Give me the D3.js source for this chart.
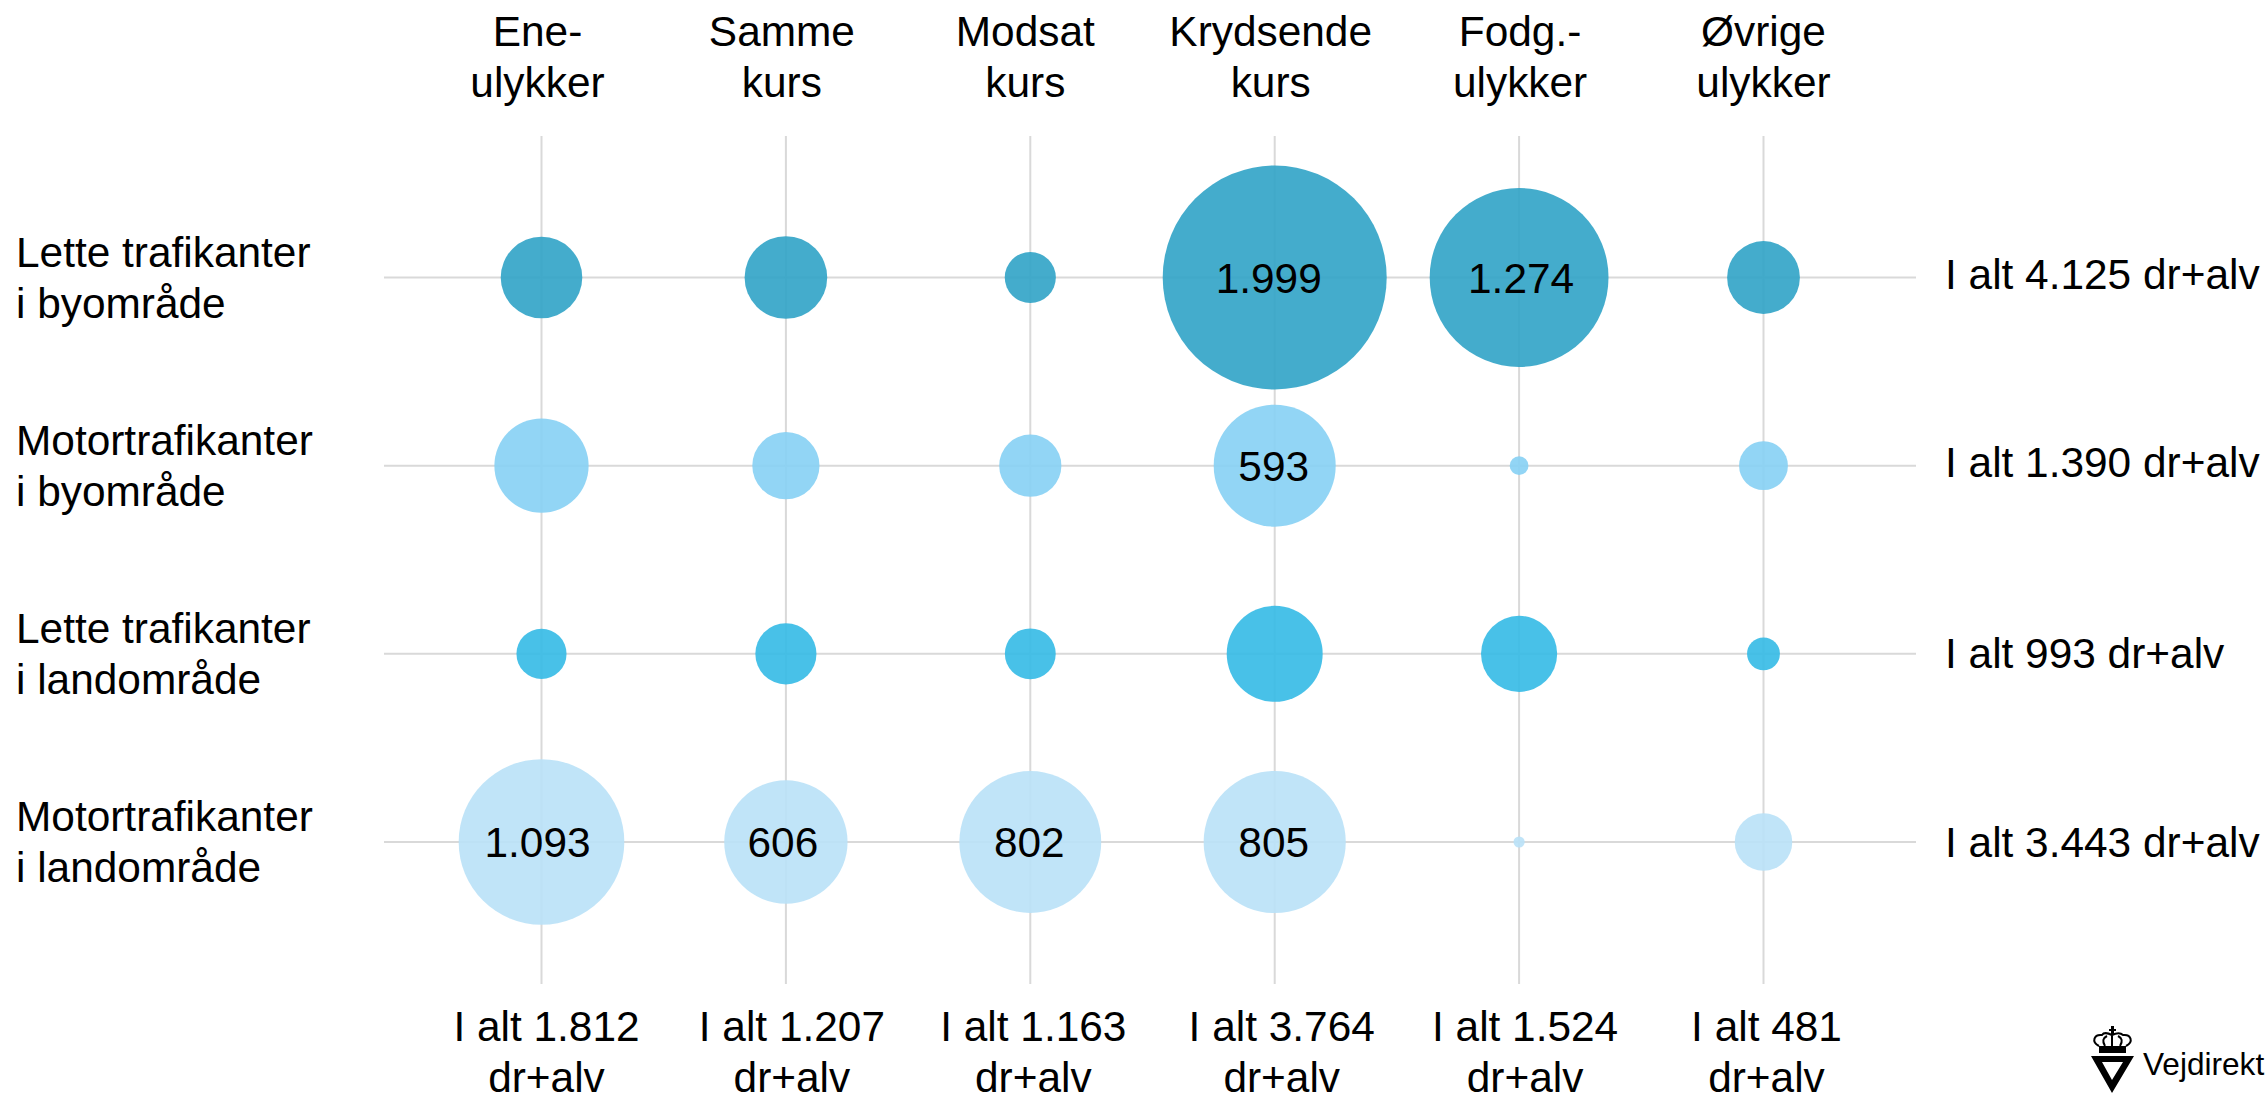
<!DOCTYPE html>
<html>
<head>
<meta charset="utf-8">
<script src="https://cdn.jsdelivr.net/npm/d3@7"></script>
<style>
  html, body { margin: 0; padding: 0; background: #fff; overflow: hidden; }
  text { font-family: "Liberation Sans", Arial, sans-serif; fill: #000; }
</style>
</head>
<body>
<svg id="chart" width="2267" height="1093"></svg>
<script>
  const columnLabels = [['Ene-', 'ulykker'], ['Samme', 'kurs'], ['Modsat', 'kurs'], ['Krydsende', 'kurs'], ['Fodg.-', 'ulykker'], ['Øvrige', 'ulykker']]
  const rowLabels = [['Lette trafikanter', 'i byområde'], ['Motortrafikanter', 'i byområde'], ['Lette trafikanter', 'i landområde'], ['Motortrafikanter', 'i landområde']]
  const columnTotals = [1812, 1207, 1163, 3764, 1524, 481]
  const rowTotals = [4125, 1390, 993, 3443]
  const rowColors = ['#30a3c7', '#86d0f4', '#34bae5', '#b9e1f7']

  // one list per row, values read off the bubble sizes where there is no label
  const letteBy = [265, 272, 104, 1999, 1274, 211]
  const motorBy = [354, 180, 154, 593, 14, 95]
  const letteLand = [100, 149, 103, 367, 231, 43]
  const motorLand = [1093, 606, 802, 805, 5, 132]
  const rows = [letteBy, motorBy, letteLand, motorLand]

  const fontSize = 42.4
  const lineGap = 51
  const labelFrom = 500 // smaller bubbles have no number

  // the text boxes in the original are not quite centred on their columns
  const headerShift = [-4, -4, -5, -4, 1, 0]
  const totalShift = [5, 6, 3, 7, 6, 3]
  const rowTotalShift = [11, 11, 14, 15]
  const labelShift = { 1999: -5, 1274: 3, 1093: -3, 606: -2 }

  const num = d3.formatLocale({ decimal: ',', thousands: '.', grouping: [3], currency: ['', ''] }).format(',d')

  const xScale = d3.scalePoint()
    .domain(d3.range(columnLabels.length))
    .range([541.5, 1763.5])

  const yScale = d3.scalePoint()
    .domain(d3.range(rowLabels.length))
    .range([277.5, 842])

  const rScale = d3.scaleSqrt()
    .domain([0, 1999])
    .range([0, 112])

  const svg = d3.select('#chart')

  // grid
  const grid = svg.append('g').attr('stroke', '#d9d9d9').attr('stroke-width', 2)
  grid.selectAll('.h').data(yScale.domain()).join('line').attr('class', 'h')
    .attr('x1', 384).attr('x2', 1916)
    .attr('y1', d => yScale(d)).attr('y2', d => yScale(d))
  grid.selectAll('.v').data(xScale.domain()).join('line').attr('class', 'v')
    .attr('y1', 136).attr('y2', 984)
    .attr('x1', d => xScale(d)).attr('x2', d => xScale(d))

  // bubbles
  rows.forEach(function(values, r) {
    const cells = values.map((v, c) => ({ v: v, c: c }))
    const g = svg.append('g')
    g.selectAll('circle').data(cells).join('circle')
      .attr('cx', d => xScale(d.c))
      .attr('cy', yScale(r))
      .attr('r', d => rScale(d.v))
      .attr('fill', rowColors[r])
      .attr('fill-opacity', 0.9)
    g.selectAll('text').data(cells.filter(d => d.v >= labelFrom)).join('text')
      .attr('x', d => xScale(d.c) - 1 + (labelShift[d.v] || 0))
      .attr('y', yScale(r) + 15)
      .attr('text-anchor', 'middle')
      .attr('font-size', fontSize)
      .text(d => num(d.v))
  })

  function twoLines(sel, lines, x, y, anchor) {
    const t = sel.append('text').attr('font-size', fontSize).attr('text-anchor', anchor)
    lines.forEach(function(line, i) {
      t.append('tspan').attr('x', x).attr('y', y + i * lineGap).text(line)
    })
  }

  // headers and totals by column
  columnLabels.forEach(function(lines, c) {
    twoLines(svg, lines, xScale(c) + headerShift[c], 46, 'middle')
    twoLines(svg, ['I alt ' + num(columnTotals[c]), 'dr+alv'], xScale(c) + totalShift[c], 1041, 'middle')
  })

  // labels and totals by row
  rowLabels.forEach(function(lines, r) {
    twoLines(svg, lines, 16, yScale(r) - 11, 'start')
    svg.append('text')
      .attr('x', 1945)
      .attr('y', yScale(r) + rowTotalShift[r])
      .attr('font-size', fontSize)
      .text('I alt ' + num(rowTotals[r]) + ' dr+alv')
  })

  // logo
  const logo = svg.append('g').attr('transform', 'translate(1950,950)')
  logo.append('path')
    .attr('fill-rule', 'evenodd')
    .attr('d', 'M141 106H184L162 143ZM152 112L162 130L173 112Z')
  logo.append('path')
    .attr('d', 'M149 103V96H176V103ZM161 76V79H159V81H161V84H164V81H166V79H164V76Z')
  logo.append('path')
    .attr('fill', 'none').attr('stroke', '#000').attr('stroke-width', 2)
    .attr('d', 'M149 96C141 92 144 84 152 85C154 82 158 83 162 85C166 83 170 82 173 85C181 84 184 92 176 96M155 96C152 91 153 88 157 86M170 96C173 91 172 88 168 86M162 86V96')
  logo.append('text')
    .attr('x', 193).attr('y', 125)
    .attr('font-family', '"Open Sans", "Noto Sans", sans-serif')
    .attr('font-size', 31.6)
    .text('Vejdirekt')
</script>
</body>
</html>
